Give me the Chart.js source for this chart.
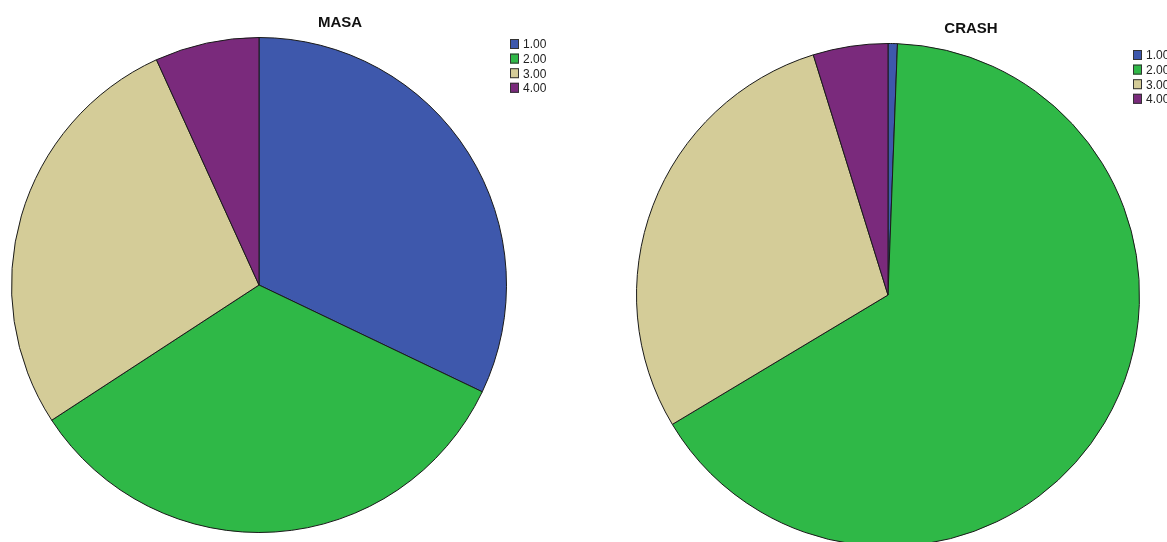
<!DOCTYPE html>
<html>
<head>
<meta charset="utf-8">
<title>MASA / CRASH</title>
<script src="https://cdn.jsdelivr.net/npm/chart.js@4"></script>
<style>
  html, body { margin: 0; padding: 0; background: #fff; overflow: hidden; }
  body { width: 1167px; height: 542px; position: relative; }
  canvas { position: absolute; top: 0; }
  #masaChart { left: 0; }
  #crashChart { left: 583px; }
</style>
</head>
<body>
<canvas id="masaChart" width="583" height="542"></canvas>
<canvas id="crashChart" width="584" height="562"></canvas>
<script>
// Categories and percentages per group
const categories = ['1.00', '2.00', '3.00', '4.00'];
const masaValues = [32.1, 33.7, 27.4, 6.8];
const crashValues = [0.6, 65.8, 28.8, 4.8];
const sliceColors = ['#3e58ac', '#2fb847', '#d4cc98', '#7a2a7c'];

const FONT = 'Arial, "Liberation Sans", sans-serif';

// Draws the title and the little legend box at fixed spots on the canvas
const labelsPlugin = {
	id: 'spssLabels',
	afterDraw(chart, args, opts) {
		const ctx = chart.ctx;
		ctx.save();
		ctx.fillStyle = '#111';
		ctx.font = 'bold 15px ' + FONT;
		ctx.textAlign = 'center';
		ctx.textBaseline = 'middle';
		ctx.fillText(opts.title, opts.titleX, opts.titleY);

		const colors = chart.data.datasets[0].backgroundColor;
		ctx.font = '12px ' + FONT;
		ctx.textAlign = 'left';
		chart.data.labels.forEach((label, i) => {
			const y = opts.legendY + i * 14.6;
			ctx.fillStyle = colors[i];
			ctx.fillRect(opts.legendX, y, 9, 10);
			ctx.strokeStyle = '#333';
			ctx.lineWidth = 1;
			ctx.strokeRect(opts.legendX + 0.5, y + 0.5, 8, 9);
			ctx.fillStyle = '#222';
			ctx.fillText(label, opts.legendX + 13, y + 6);
		});
		ctx.restore();
	},
};

function makePie(id, values, padding, labelOpts) {
	const ctx = document.getElementById(id).getContext('2d');
	return new Chart(ctx, {
		type: 'pie',
		data: {
			labels: categories,
			datasets: [
				{
					data: values,
					backgroundColor: sliceColors,
					borderColor: '#1a1a1a',
					borderWidth: 1,
				},
			],
		},
		options: {
			responsive: false,
			animation: false,
			layout: { padding: padding },
			plugins: {
				legend: { display: false },
				tooltip: { enabled: false },
				title: { display: false },
				spssLabels: labelOpts,
			},
		},
		plugins: [labelsPlugin],
	});
}

makePie('masaChart', masaValues,
	{ left: 11, top: 37, right: 76, bottom: 9 },
	{ title: 'MASA', titleX: 340, titleY: 23, legendX: 510, legendY: 39 });

makePie('crashChart', crashValues,
	{ left: 53, top: 43, right: 27, bottom: 15 },
	{ title: 'CRASH', titleX: 388, titleY: 29, legendX: 550, legendY: 50 });
</script>
</body>
</html>
